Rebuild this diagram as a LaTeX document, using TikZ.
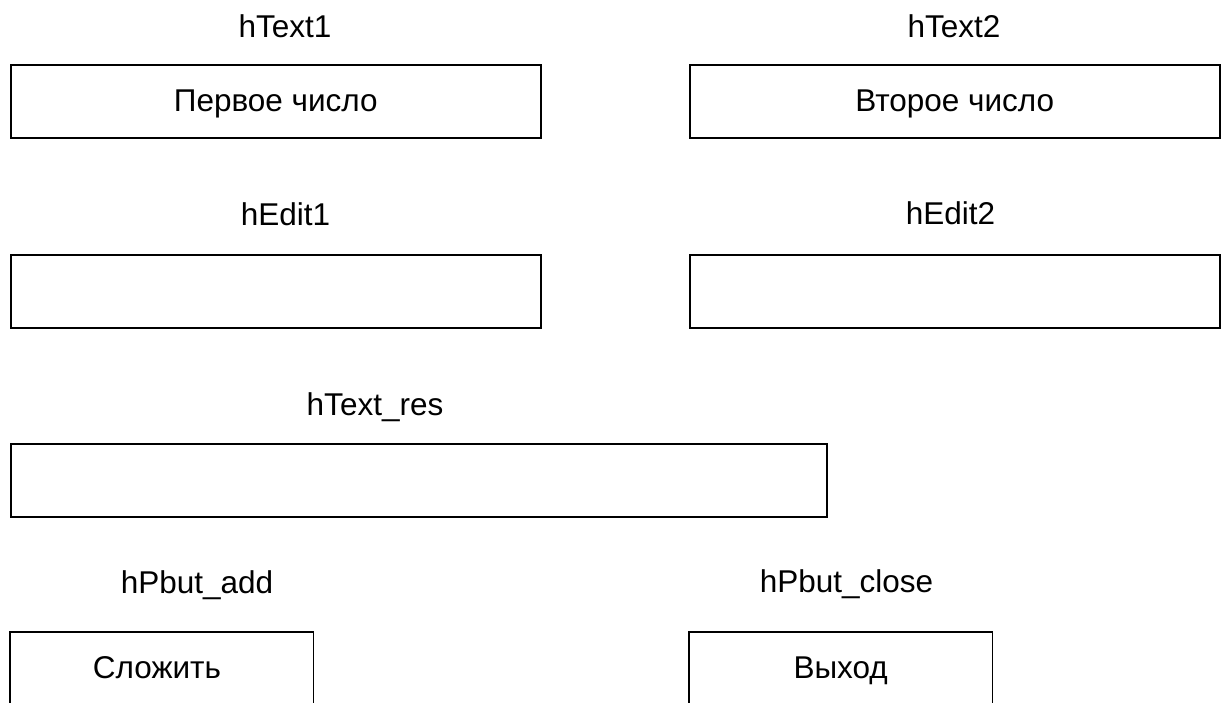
\documentclass[tikz,border=0pt]{standalone}
\usepackage{fontspec}
\setmainfont{Liberation Sans}
\begin{document}
\begin{tikzpicture}[x=1pt,y=-1pt,
  lbl/.style={anchor=base,inner sep=0pt,font=\fontsize{31.5}{38}\selectfont},
  field/.style={draw,line width=1.6pt,anchor=north west,inner sep=0pt,minimum height=73pt},
  wide/.style={field,minimum width=530pt},
  btn/.style={inner sep=0pt,anchor=north west,minimum height=80pt,minimum width=303pt},
  edge/.style={line width=1.6pt}]
\useasboundingbox (0,0) rectangle (1226,702);
% labels
\node[lbl] (l1) at (285,37) {hText1};
\node[lbl] (l2) at (954,37) {hText2};
\node[lbl] (l3) at (285.5,225) {hEdit1};
\node[lbl] (l4) at (950.5,224) {hEdit2};
\node[lbl] (l5) at (375,415) {hText\_res};
\node[lbl] (l6) at (197,593) {hPbut\_add};
\node[lbl] (l7) at (846.5,592) {hPbut\_close};
% boxes
\node[wide] (t1) at (10,64) {};
\node[wide] (t2) at (689,64) {};
\node[lbl] (t1t) at (t1.center |- 0,111) {Первое число};
\node[lbl] (t2t) at (t2.center |- 0,111) {Второе число};
\node[wide] (e1) at (10,254) {};
\node[wide] (e2) at (689,254) {};
\node[field,minimum width=816pt] (res) at (10,443) {};
% buttons (cut off at the bottom)
\node[btn] (b1) at (10,632) {};
\node[btn] (b2) at (689,632) {};
\draw[edge] (b1.south west) -- (b1.north west) -- (b1.north east) -- (b1.south east);
\draw[edge] (b2.south west) -- (b2.north west) -- (b2.north east) -- (b2.south east);
\node[lbl] (b1t) at (157,678) {Сложить};
\node[lbl] (b2t) at (b2.center |- 0,678) {Выход};
\end{tikzpicture}
\end{document}
